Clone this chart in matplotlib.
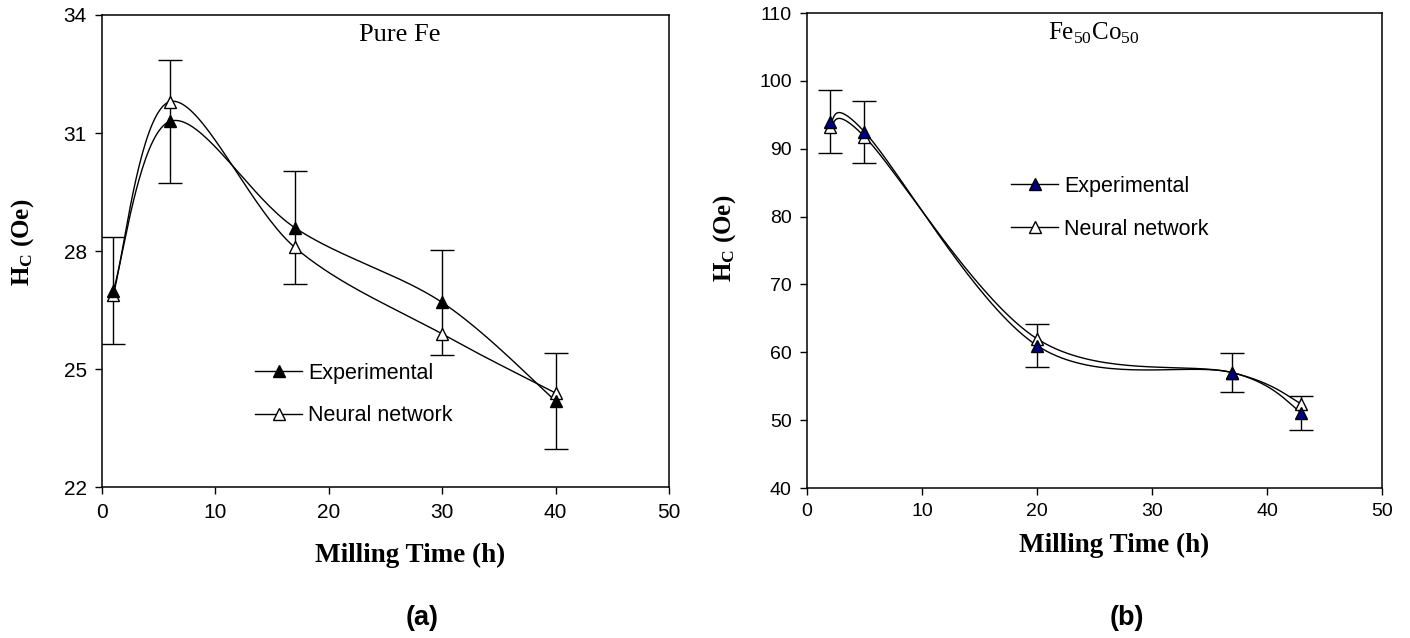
import numpy as np
import matplotlib
matplotlib.use("Agg")
import matplotlib.pyplot as plt
from matplotlib.lines import Line2D

plt.rcParams['font.family'] = ['Liberation Sans', 'DejaVu Sans']
plt.rcParams['mathtext.fontset'] = 'custom'
plt.rcParams['mathtext.rm'] = 'Liberation Serif'
plt.rcParams['mathtext.bf'] = 'Liberation Serif:bold'

# (a) pure Fe
time_fe = [1, 6, 17, 30, 40]
exp_fe = [27.0, 31.3, 28.6, 26.7, 24.2]
nn_fe = [26.9, 31.8, 28.1, 25.9, 24.4]
err_fe = [1.35, 1.56, 1.43, 1.33, 1.21]

# (b) Fe50Co50
time_feco = [2, 5, 20, 37, 43]
exp_feco = [94.0, 92.5, 61.0, 57.0, 51.1]
nn_feco = [93.2, 91.8, 62.0, 57.0, 52.4]
err_feco = [4.7, 4.6, 3.1, 2.85, 2.5]


def smooth(x, y, xlim, ylim, n=40):
    # excel-like smoothed line (bezier through the points, done in axes units)
    px = (np.asarray(x, float) - xlim[0]) / (xlim[1] - xlim[0])
    py = (np.asarray(y, float) - ylim[0]) / (ylim[1] - ylim[0])
    pts = np.column_stack([px, py])
    out = [pts[0]]
    t = np.linspace(0, 1, n)[1:, None]
    for i in range(len(pts) - 1):
        p0 = pts[max(i - 1, 0)]
        p1 = pts[i]
        p2 = pts[i + 1]
        p3 = pts[min(i + 2, len(pts) - 1)]
        c1 = p1 + (p2 - p0) / 6
        c2 = p2 - (p3 - p1) / 6
        seg = ((1 - t) ** 3) * p1 + 3 * ((1 - t) ** 2) * t * c1 + 3 * (1 - t) * t ** 2 * c2 + t ** 3 * p2
        out.extend(seg)
    out = np.array(out)
    return (out[:, 0] * (xlim[1] - xlim[0]) + xlim[0],
            out[:, 1] * (ylim[1] - ylim[0]) + ylim[0])


def panel(ax, t, ex, nn, err, ylim, yticks, exp_face, tick_size):
    xlim = (0, 50)
    ax.set_xlim(*xlim)
    ax.set_ylim(*ylim)
    ax.set_xticks(range(0, 51, 10))
    ax.set_yticks(yticks)
    for s in ax.spines.values():
        s.set_linewidth(1.1)
    ax.tick_params(direction='out', length=5, width=1, labelsize=tick_size, pad=6)

    sx, sy = smooth(t, ex, xlim, ylim)
    ax.plot(sx, sy, color='black', lw=1.0)
    sx, sy = smooth(t, nn, xlim, ylim)
    ax.plot(sx, sy, color='black', lw=1.0)

    ax.errorbar(t, ex, yerr=err, fmt='none', ecolor='black', elinewidth=1.0,
                capsize=8.5, capthick=1.0, zorder=3)
    ax.plot(t, nn, ls='none', marker='^', ms=8, mfc='white', mec='black', mew=1.0, zorder=4)
    ax.plot(t, ex, ls='none', marker='^', ms=8, mfc=exp_face, mec='black', mew=1.0, zorder=5)

    handles = [Line2D([], [], color='black', lw=1.0, marker='^', ms=8, mfc=exp_face, mec='black'),
               Line2D([], [], color='black', lw=1.0, marker='^', ms=8, mfc='white', mec='black')]
    return handles


fig = plt.figure(figsize=(14.1, 6.38), dpi=100)
ax1 = fig.add_axes([0.0723, 0.2359, 0.4021, 0.7406])
ax2 = fig.add_axes([0.5723, 0.2351, 0.4078, 0.7445])

h1 = panel(ax1, time_fe, exp_fe, nn_fe, err_fe, (22, 34), [22, 25, 28, 31, 34], 'black', 15)
h2 = panel(ax2, time_feco, exp_feco, nn_feco, err_feco, (40, 110), range(40, 111, 10), '#000080', 14)

leg_kw = dict(frameon=False, fontsize=15.5, handlelength=2.2, handletextpad=0.25,
              labelspacing=1.0, borderpad=0, borderaxespad=0, loc='center left')
ax1.legend(h1, ['Experimental', 'Neural network'], bbox_to_anchor=(0.27, 0.197), **leg_kw)
ax2.legend(h2, ['Experimental', 'Neural network'], bbox_to_anchor=(0.355, 0.59), **leg_kw)

ax1.text(0.526, 0.958, 'Pure Fe', transform=ax1.transAxes, ha='center', va='center',
         family='Liberation Serif', fontsize=19)
ax2.text(0.499, 0.958, r'Fe$_{\mathrm{50}}$Co$_{\mathrm{50}}$', transform=ax2.transAxes,
         ha='center', va='center', family='Liberation Serif', fontsize=18)

lab = dict(family='Liberation Serif', fontweight='bold', fontsize=19.5, ha='center', va='center')
fig.text(0.2908, 0.1301, 'Milling Time (h)', **lab)
fig.text(0.790, 0.1458, 'Milling Time (h)', **lab)
ylab = dict(family='Liberation Serif', fontweight='bold', fontsize=18, ha='center', va='center',
            rotation=90)
fig.text(0.0163, 0.6207, r'$\mathbf{H_C}$ (Oe)', **ylab)
fig.text(0.5142, 0.627, r'$\mathbf{H_C}$ (Oe)', **ylab)

fig.text(0.2993, 0.0313, '(a)', fontweight='bold', fontsize=19.5, ha='center', va='center')
fig.text(0.7993, 0.0313, '(b)', fontweight='bold', fontsize=19.5, ha='center', va='center')

fig.savefig('out.png', dpi=100)
